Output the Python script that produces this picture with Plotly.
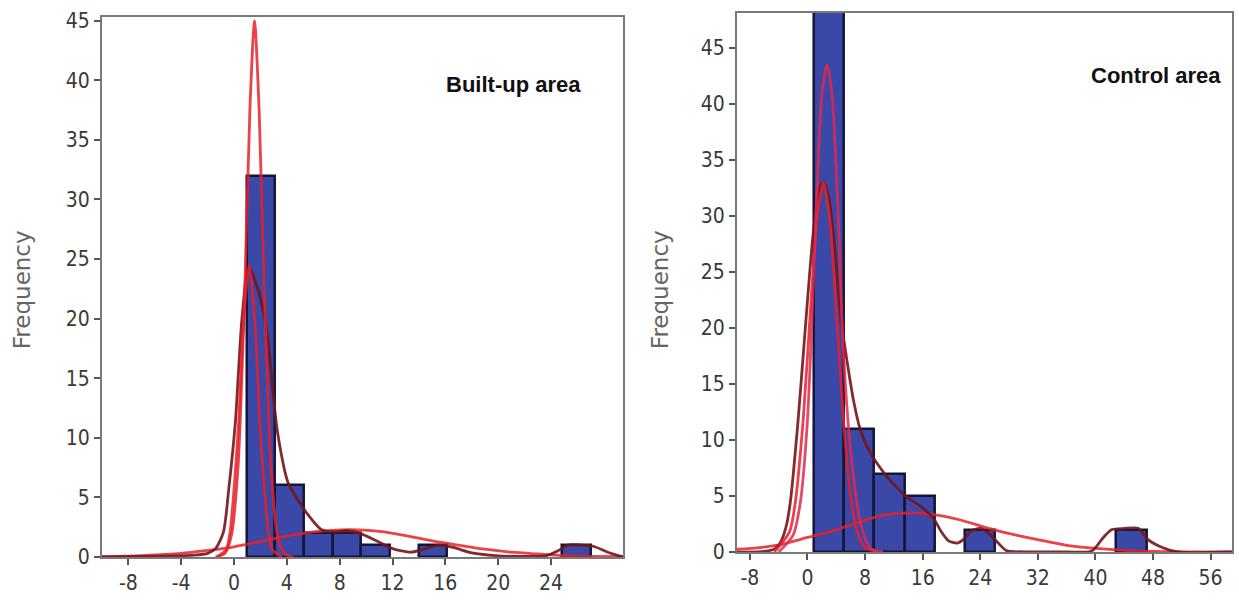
import numpy as np
import plotly.graph_objects as go

# ---------------- data ----------------
# Left panel: Built-up area
left_edges = [0.95, 3.12, 5.29, 7.46, 9.63, 11.8, 13.97, 16.14, 18.31, 20.48, 22.65, 24.82, 26.99]
left_counts = [32, 6, 2, 2, 1, 0, 1, 0, 0, 0, 0, 1]

left_narrow_x = [-1.4, -0.7, -0.2, 0.3, 0.8, 1.2, 1.55, 1.9, 2.3, 2.8, 3.3, 3.8, 4.5]
left_narrow_y = [0.0, 0.3, 1.8, 7.5, 22.0, 37.5, 45.0, 37.5, 22.0, 7.5, 1.8, 0.3, 0.0]

left_mid_x = [-1.3, -0.6, -0.3, 0.0, 0.35, 0.7, 1.15, 1.6, 1.95, 2.3, 2.6, 2.9, 3.6]
left_mid_y = [0.0, 0.6, 2.1, 5.7, 11.3, 19.4, 24.5, 19.4, 11.3, 5.7, 2.1, 0.6, 0.0]

left_kde_x = [-10.0, -6.0, -3.0, -2.0, -1.4, -0.8, -0.4, 0.1, 0.6, 1.1, 1.8, 2.5, 3.0, 3.3,
              4.1, 5.0, 5.7, 6.6, 7.5, 8.5, 9.5, 10.7, 12.0, 13.4, 14.5, 15.5, 16.6, 18.0,
              20.0, 22.0, 23.6, 24.5, 25.3, 26.3, 27.2, 28.3, 29.45]
left_kde_y = [0.0, 0.05, 0.15, 0.3, 0.7, 2.1, 5.7, 11.3, 20.0, 24.3, 22.5, 18.8, 13.2, 10.4,
              6.2, 4.5, 3.4, 2.3, 2.1, 2.2, 2.0, 1.4, 0.7, 0.4, 0.7, 1.0, 0.8, 0.35,
              0.1, 0.05, 0.1, 0.5, 1.0, 1.0, 0.9, 0.4, 0.0]

left_broad_x = [-10.0, -7.0, -4.0, -2.0, 0.0, 2.0, 4.0, 6.0, 8.7, 11.0, 13.0, 15.0, 17.0,
                19.0, 21.0, 23.0, 25.0, 27.0, 29.45]
left_broad_y = [0.03, 0.12, 0.3, 0.55, 0.85, 1.3, 1.75, 2.1, 2.3, 2.15, 1.8, 1.35, 1.0,
                0.65, 0.4, 0.25, 0.12, 0.05, 0.02]

# Right panel: Control area
right_edges = [0.9, 5.1, 9.3, 13.5, 17.7, 21.9, 26.1, 30.3, 34.5, 38.7, 42.9, 47.1]
right_counts = [55, 11, 7, 5, 0, 2, 0, 0, 0, 0, 2]

right_narrow_x = [-4.0, -2.0, -1.0, 0.0, 1.0, 2.0, 2.7, 3.4, 4.4, 4.9, 6.0, 7.4, 8.8, 10.5]
right_narrow_y = [0.0, 1.5, 4.4, 11.8, 27.0, 40.9, 43.5, 40.9, 28.0, 19.0, 9.0, 2.5, 0.3, 0.0]

right_mid_x = [-4.6, -2.5, -1.7, -0.6, 0.5, 1.3, 2.2, 3.1, 3.9, 5.0, 6.1, 7.0, 8.0, 9.8]
right_mid_y = [0.0, 1.8, 4.4, 11.8, 22.5, 29.6, 33.0, 29.6, 22.5, 11.8, 4.4, 1.6, 0.4, 0.0]

right_kde_x = [-9.8, -6.0, -4.5, -3.8, -3.0, -2.4, -1.3, -0.3, 0.8, 1.6, 2.2, 3.0, 3.8, 4.6,
               5.5, 6.4, 7.3, 8.6, 10.7, 12.2, 13.8, 15.7, 17.5, 18.6, 19.6, 20.8, 21.8,
               22.8, 24.0, 25.3, 26.5, 27.7, 30.0, 35.0, 39.5, 41.1, 42.3, 44.0, 46.0,
               47.3, 49.3, 51.4, 59.0]
right_kde_y = [0.0, 0.05, 0.3, 0.8, 2.2, 4.4, 11.8, 20.0, 28.5, 32.2, 33.0, 31.5, 27.0, 21.0,
               17.0, 13.5, 11.0, 9.0, 7.0, 5.9, 4.9, 4.1, 3.0, 1.8, 1.0, 0.8, 1.2,
               1.9, 2.1, 1.6, 0.8, 0.1, 0.02, 0.02, 0.1, 1.3, 2.0, 2.1, 2.1,
               1.1, 0.4, 0.0, 0.0]

right_broad_x = [-9.8, -6.6, -3.8, 0.0, 3.1, 7.3, 10.5, 14.5, 18.0, 21.0, 25.8, 29.0, 32.0,
                 36.0, 39.8, 44.0, 48.0, 52.0, 59.0]
right_broad_y = [0.25, 0.4, 0.65, 1.3, 1.8, 2.7, 3.3, 3.5, 3.3, 2.9, 2.0, 1.5, 1.1,
                 0.6, 0.35, 0.15, 0.05, 0.02, 0.0]

left_xticks = [-8, -4, 0, 4, 8, 12, 16, 20, 24]
left_xlabels = ["-8", "-4", "0", "4", "8", "12", "16", "20", "24"]
right_xticks = [-8, 0, 8, 16, 24, 32, 40, 48, 56]
right_xlabels = ["-8", "0", "8", "16", "24", "32", "40", "48", "56"]
yticks = [0, 5, 10, 15, 20, 25, 30, 35, 40, 45]

# ---------------- styling ----------------
BAR_FILL = "#3a48a8"
BAR_LINE = "#15153a"
RED = "rgba(232,32,40,0.85)"
DARK = "rgba(115,20,25,0.9)"
PINK = "rgba(226,40,80,0.85)"
TICK_FONT = dict(family="DejaVu Sans Condensed, DejaVu Sans, Verdana, sans-serif", size=21, color="#3a3a3a")

fig = go.Figure()


def add_hist(edges, counts, xa, ya):
    e = np.array(edges, dtype=float)
    c = np.array(counts, dtype=float)
    centers = (e[:-1] + e[1:]) / 2
    widths = e[1:] - e[:-1]
    m = c > 0
    fig.add_trace(go.Bar(x=centers[m], y=c[m], width=widths[m], xaxis=xa, yaxis=ya,
                         marker=dict(color=BAR_FILL, line=dict(color=BAR_LINE, width=2.5)),
                         showlegend=False, hoverinfo="skip"))


def add_curve(x, y, color, xa, ya, w=2.8):
    fig.add_trace(go.Scatter(x=x, y=y, mode="lines", xaxis=xa, yaxis=ya,
                             line=dict(color=color, width=w, shape="spline", smoothing=0.7),
                             showlegend=False, hoverinfo="skip", cliponaxis=True))


add_hist(left_edges, left_counts, "x", "y")
add_curve(left_broad_x, left_broad_y, RED, "x", "y")
add_curve(left_kde_x, left_kde_y, DARK, "x", "y")
add_curve(left_mid_x, left_mid_y, RED, "x", "y")
add_curve(left_narrow_x, left_narrow_y, RED, "x", "y")

add_hist(right_edges, right_counts, "x2", "y2")
add_curve(right_broad_x, right_broad_y, RED, "x2", "y2")
add_curve(right_kde_x, right_kde_y, DARK, "x2", "y2")
add_curve(right_mid_x, right_mid_y, RED, "x2", "y2")
add_curve(right_narrow_x, right_narrow_y, PINK, "x2", "y2")

axis_common = dict(showgrid=False, zeroline=False, showline=True, mirror=True,
                   linecolor="#7a7a7a", linewidth=2, ticks="outside", ticklen=6,
                   tickcolor="#555555", tickwidth=1.5, tickfont=TICK_FONT, automargin=False)

fig.update_layout(
    width=1239, height=607,
    margin=dict(l=0, r=0, t=0, b=0, autoexpand=False),
    paper_bgcolor="white", plot_bgcolor="white",
    bargap=0, barmode="overlay",
    xaxis=dict(domain=[0.0823, 0.5028], range=[-10.0, 29.45], tickvals=left_xticks,
               ticktext=left_xlabels, anchor="y", **axis_common),
    yaxis=dict(domain=[0.0824, 0.972], range=[0, 45.3], tickvals=yticks,
               anchor="x", **axis_common),
    xaxis2=dict(domain=[0.5948, 0.9945], range=[-9.8, 59.0], tickvals=right_xticks,
                ticktext=right_xlabels, anchor="y2", **axis_common),
    yaxis2=dict(domain=[0.0906, 0.9786], range=[0, 48.1], tickvals=yticks,
                anchor="x2", **axis_common),
)

TITLE_FONT = dict(family="Liberation Sans Narrow, Arial Narrow, Liberation Sans, Arial, sans-serif",
                  size=22, color="#111111")
LABEL_FONT = dict(family="DejaVu Sans, Verdana, sans-serif", size=23, color="#666666")

fig.add_annotation(xref="paper", yref="paper", x=0.4148, y=0.8616, text="<b>Built-up area</b>",
                   showarrow=False, font=TITLE_FONT, xanchor="center", yanchor="middle")
fig.add_annotation(xref="paper", yref="paper", x=0.933, y=0.8764, text="<b>Control area</b>",
                   showarrow=False, font=TITLE_FONT, xanchor="center", yanchor="middle")
fig.add_annotation(xref="paper", yref="paper", x=0.0178, y=0.522, text="Frequency",
                   textangle=-90, showarrow=False, font=LABEL_FONT, xanchor="center", yanchor="middle")
fig.add_annotation(xref="paper", yref="paper", x=0.5327, y=0.522, text="Frequency",
                   textangle=-90, showarrow=False, font=LABEL_FONT, xanchor="center", yanchor="middle")

fig.write_html("out.html", config={"displayModeBar": False},
               post_script="document.body.style.margin='0px';")
